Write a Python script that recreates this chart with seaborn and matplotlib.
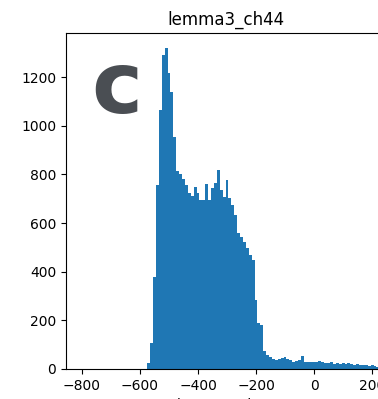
import numpy as np
import pandas as pd
import matplotlib
matplotlib.use("Agg")
import matplotlib.pyplot as plt
import seaborn as sns

# ---- data: histogram bins (left edges, width 10) and counts ----
bin_left = list(range(-575, 235, 10))
counts = [
    25, 107, 378, 756, 1064, 1290, 1319, 1216, 1138, 953,      # -575 .. -485
    815, 800, 780, 756, 723, 710, 748, 723, 695, 695,          # -475 .. -385
    760, 695, 744, 764, 818, 736, 707, 777, 703, 674,          # -375 .. -285
    633, 559, 543, 522, 497, 469, 448, 284, 189, 181,          # -275 .. -185
    75, 58, 49, 41, 35, 41, 45, 49, 42, 35,                    # -175 .. -85
    29, 33, 35, 53, 29, 28, 27, 29, 28, 31,                    # -75 .. 15
    27, 25, 24, 28, 22, 25, 21, 24, 20, 26,                    # 25 .. 115
    19, 18, 22, 16, 15, 18, 13, 15, 12, 10, 8,                 # 125 .. 225
]
bin_width = 10
title = "lemma3_ch44"
xticks = [-800, -600, -400, -200, 0, 200]
yticks = [0, 200, 400, 600, 800, 1000, 1200]
panel_letter = "c"

n = min(len(bin_left), len(counts))
df = pd.DataFrame({
    "value": np.array(bin_left[:n]) + bin_width / 2,
    "count": counts[:n],
})
edges = list(bin_left[:n]) + [bin_left[n - 1] + bin_width]

W, H = 378, 399
fig = plt.figure(figsize=(W / 100, H / 100), dpi=100)
ax_left, ax_right, ax_top, ax_bot = 66, 386, 33, 369
ax = fig.add_axes([ax_left / W, (H - ax_bot) / H,
                   (ax_right - ax_left) / W, (ax_bot - ax_top) / H])

sns.histplot(data=df, x="value", weights="count", bins=edges, ax=ax,
             color="#1f77b4", alpha=1, linewidth=0, edgecolor="none")

ax.set_xlim(-855, 248)
ax.set_ylim(0, 1381)
ax.set_xticks(xticks)
ax.set_yticks(yticks)
ax.set_xticklabels([f"{t}".replace("-", "\u2212") for t in xticks])
ax.set_ylabel("")
ax.set_xlabel("lemma3_ch50")
ax.set_title(title, fontsize=12)
ax.tick_params(labelsize=10)

fig.text(117 / W, 1 - 89 / H, panel_letter, fontsize=62, fontweight="bold",
         color="#4a4e53", ha="center", va="center", family="DejaVu Sans")

fig.savefig("out.png", dpi=100)
